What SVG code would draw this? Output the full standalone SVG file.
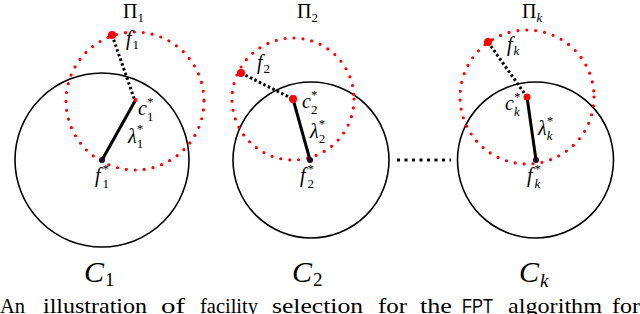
<svg xmlns="http://www.w3.org/2000/svg" width="640" height="314" viewBox="0 0 640 314">
<style>
.cl{fill:none;stroke:#000;stroke-width:1.6}
.pi{fill:none;stroke:#ff0000;stroke-width:3.2;stroke-linecap:round;stroke-dasharray:0 9}
.dl{fill:none;stroke:#000;stroke-width:3;stroke-dasharray:2.5 2.5}
.sl{fill:none;stroke:#000;stroke-width:3}
.sep{fill:none;stroke:#000;stroke-width:3;stroke-dasharray:3 4.5}
.rd{fill:#ff0000}
.bk{fill:#1a0a2a}
text{font-family:'Liberation Serif','DejaVu Serif',serif}
.m{font-style:italic;font-size:20px}
.u{font-size:20px}
.s{font-style:normal;font-size:13px}
.si{font-style:italic;font-size:13px}
.big{font-style:italic;font-size:30px}
.bs{font-style:normal;font-size:19px}
.bsi{font-style:italic;font-size:19px}
.cap{font-size:21px}
.caps{font-family:'Liberation Sans','DejaVu Sans',sans-serif;font-size:20px}
</style>
<rect x="0" y="0" width="640" height="314" fill="#ffffff"/>

<g id="cluster1">
  <circle class="cl" cx="102" cy="160" r="87"/>
  <circle class="pi" cx="135" cy="101" r="69"/>
  <text class="u" x="123" y="18">Π<tspan class="s" dy="4">1</tspan></text>
  <text class="m" x="126" y="45">f<tspan class="s" dx="1" dy="4">1</tspan></text>
  <text class="m" x="138" y="115">c<tspan class="s" dy="-9">*</tspan><tspan class="s" dx="-6.5" dy="15">1</tspan></text>
  <text class="m" x="128" y="143">λ<tspan class="s" dy="-10">*</tspan><tspan class="s" dx="-6.5" dy="15">1</tspan></text>
  <text class="m" x="95" y="182">f<tspan class="s" dx="2" dy="-9">*</tspan><tspan class="s" dx="-6.5" dy="15">1</tspan></text>
  <text class="big" x="84" y="282">C<tspan class="bs" dx="1" dy="4">1</tspan></text>
</g>

<g id="cluster2">
  <circle class="cl" cx="311" cy="160" r="78"/>
  <circle class="pi" cx="293" cy="99" r="61"/>
  <text class="u" x="297" y="18">Π<tspan class="s" dy="4">2</tspan></text>
  <text class="m" x="257" y="69">f<tspan class="s" dx="1" dy="4">2</tspan></text>
  <text class="m" x="302" y="108">c<tspan class="s" dy="-9">*</tspan><tspan class="s" dx="-6.5" dy="15">2</tspan></text>
  <text class="m" x="310" y="138">λ<tspan class="s" dy="-10">*</tspan><tspan class="s" dx="-6.5" dy="15">2</tspan></text>
  <text class="m" x="300" y="182">f<tspan class="s" dx="2" dy="-9">*</tspan><tspan class="s" dx="-6.5" dy="15">2</tspan></text>
  <text class="big" x="292" y="282">C<tspan class="bs" dx="1" dy="4">2</tspan></text>
</g>

<g id="clusterk">
  <circle class="cl" cx="535.5" cy="160" r="78"/>
  <circle class="pi" cx="527" cy="97" r="67"/>
  <text class="u" x="522" y="18">Π<tspan class="si" dy="4">k</tspan></text>
  <text class="m" x="507" y="51">f<tspan class="si" dx="1" dy="4">k</tspan></text>
  <text class="m" x="505" y="110">c<tspan class="s" dy="-9">*</tspan><tspan class="si" dx="-6.5" dy="15">k</tspan></text>
  <text class="m" x="538" y="135">λ<tspan class="s" dy="-10">*</tspan><tspan class="si" dx="-6.5" dy="15">k</tspan></text>
  <text class="m" x="527" y="182">f<tspan class="s" dx="2" dy="-9">*</tspan><tspan class="si" dx="-6.5" dy="15">k</tspan></text>
  <text class="big" x="519" y="282">C<tspan class="bsi" dx="1" dy="5">k</tspan></text>
</g>

<g id="connectors">
  <line class="dl" x1="112" y1="35" x2="135" y2="101"/>
  <line class="sl" x1="102" y1="160" x2="135" y2="101"/>
  <line class="dl" x1="241" y1="73" x2="293" y2="99"/>
  <line class="sl" x1="310" y1="160" x2="293" y2="99"/>
  <line class="dl" x1="488" y1="42" x2="527" y2="97"/>
  <line class="sl" x1="536" y1="160" x2="527" y2="97"/>
  <line class="sep" x1="397" y1="160" x2="451" y2="160"/>
</g>

<g id="points">
  <circle class="rd" cx="112" cy="35" r="4"/>
  <circle class="rd" cx="135.5" cy="100" r="2"/>
  <circle class="bk" cx="102" cy="160" r="3"/>
  <circle class="rd" cx="241" cy="73" r="4"/>
  <circle class="rd" cx="293" cy="99" r="4"/>
  <circle class="bk" cx="310" cy="160" r="3"/>
  <circle class="rd" cx="488" cy="42" r="4"/>
  <circle class="rd" cx="527" cy="97" r="3.5"/>
  <circle class="bk" cx="536" cy="160" r="3"/>
</g>

<g id="caption">
  <text class="cap" x="0" y="313" textLength="25" lengthAdjust="spacingAndGlyphs">An</text>
  <text class="cap" x="43" y="313" textLength="104" lengthAdjust="spacingAndGlyphs">illustration</text>
  <text class="cap" x="161" y="313" textLength="24" lengthAdjust="spacingAndGlyphs">of</text>
  <text class="cap" x="200" y="313" textLength="58" lengthAdjust="spacingAndGlyphs">facility</text>
  <text class="cap" x="272" y="313" textLength="91" lengthAdjust="spacingAndGlyphs">selection</text>
  <text class="cap" x="378" y="313" textLength="29" lengthAdjust="spacingAndGlyphs">for</text>
  <text class="cap" x="420" y="313" textLength="32" lengthAdjust="spacingAndGlyphs">the</text>
  <text class="caps" x="462" y="313" textLength="31" lengthAdjust="spacingAndGlyphs">FPT</text>
  <text class="cap" x="508" y="313" textLength="94" lengthAdjust="spacingAndGlyphs">algorithm</text>
  <text class="cap" x="612" y="313" textLength="28" lengthAdjust="spacingAndGlyphs">for</text>
</g>
</svg>
